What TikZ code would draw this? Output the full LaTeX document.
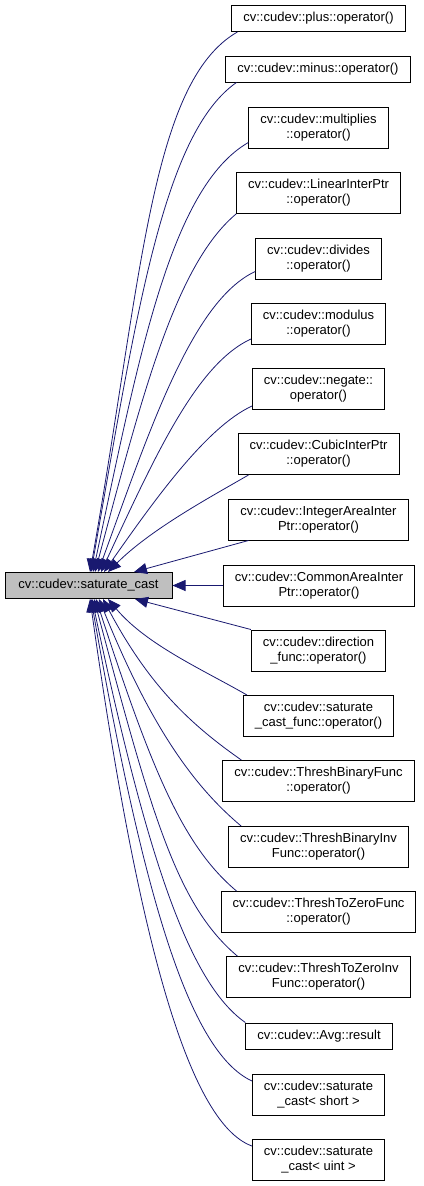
\documentclass[tikz,border=0pt]{standalone}
\usepackage{fontspec}
\setmainfont{Liberation Sans}
\usetikzlibrary{arrows.meta}
\definecolor{edgeblue}{HTML}{191970}
\definecolor{maingray}{HTML}{BFBFBF}
\begin{document}
\begin{tikzpicture}[x=1pt, y=1pt,
  every node/.style={font=\fontsize{13}{15}\selectfont},
  fn/.style={draw=black, line width=1pt, align=center, inner xsep=11.5pt, inner ysep=0pt, minimum height=41pt},
  fnone/.style={fn, minimum height=26pt},
  edge/.style={draw=edgeblue, line width=0.8pt, -{Triangle[length=13pt,width=11pt]}}]
  \useasboundingbox (0,0) rectangle (423,-1186);
  \node[fnone, fill=maingray, minimum width=167pt] (main) at (88.5,-585.5) {cv::cudev::saturate\_cast};
  \node[fnone] (plus) at (318.5,-18.5) {cv::cudev::plus::operator()};
  \node[fnone] (minus) at (318,-69) {cv::cudev::minus::operator()};
  \node[fn] (mult) at (318.5,-127.5) {cv::cudev::multiplies\\::operator()};
  \node[fn] (linear) at (318.5,-193) {cv::cudev::LinearInterPtr\\::operator()};
  \node[fn] (divides) at (318.5,-258.5) {cv::cudev::divides\\::operator()};
  \node[fn] (modulus) at (318.5,-324) {cv::cudev::modulus\\::operator()};
  \node[fn] (negate) at (318.5,-389) {cv::cudev::negate::\\operator()};
  \node[fn] (cubic) at (318.5,-454) {cv::cudev::CubicInterPtr\\::operator()};
  \node[fn] (intarea) at (318.5,-519.5) {cv::cudev::IntegerAreaInter\\Ptr::operator()};
  \node[fn] (commonarea) at (319,-585.5) {cv::cudev::CommonAreaInter\\Ptr::operator()};
  \node[fn] (direction) at (318.5,-650.5) {cv::cudev::direction\\\_func::operator()};
  \node[fn] (satfunc) at (318.5,-716) {cv::cudev::saturate\\\_cast\_func::operator()};
  \node[fn] (tbin) at (318.5,-781) {cv::cudev::ThreshBinaryFunc\\::operator()};
  \node[fn] (tbininv) at (318.5,-847) {cv::cudev::ThreshBinaryInv\\Func::operator()};
  \node[fn] (tzero) at (318.5,-912) {cv::cudev::ThreshToZeroFunc\\::operator()};
  \node[fn] (tzeroinv) at (318.5,-977) {cv::cudev::ThreshToZeroInv\\Func::operator()};
  \node[fnone] (avg) at (319,-1036) {cv::cudev::Avg::result};
  \node[fn] (satshort) at (318.5,-1095) {cv::cudev::saturate\\\_cast< short >};
  \node[fn] (satuint) at (318.5,-1160) {cv::cudev::saturate\\\_cast< uint >};
  \draw[edge] ([xshift=6pt]plus.south west) .. controls +(210:100) and +(80:300) .. ([xshift=1.5pt]main.north);
  \draw[edge] ([xshift=11pt]minus.south west) .. controls +(215:90) and +(80:260) .. ([xshift=2.5pt]main.north);
  \draw[edge] ([yshift=6pt]mult.south west) .. controls +(210:90) and +(78:220) .. ([xshift=4.5pt]main.north);
  \draw[edge] (linear.south west) .. controls +(220:80) and +(75:180) .. ([xshift=6.5pt]main.north);
  \draw[edge] ([yshift=8pt]divides.south west) .. controls +(205:70) and +(70:150) .. ([xshift=9.5pt]main.north);
  \draw[edge] ([yshift=6pt]modulus.south west) .. controls +(205:60) and +(65:130) .. ([xshift=12.5pt]main.north);
  \draw[edge] ([yshift=4pt]negate.south west) .. controls +(205:50) and +(55:90) .. ([xshift=15.5pt]main.north);
  \draw[edge] ([xshift=11pt]cubic.south west) .. controls +(210:45) and +(45:60) .. ([xshift=19.5pt]main.north);
  \draw[edge] ([xshift=20pt]intarea.south west) -- ([xshift=45.5pt]main.north);
  \draw[edge] (commonarea.west) -- (main.east);
  \draw[edge] (direction.north west) -- ([xshift=46.5pt]main.south);
  \draw[edge] ([xshift=4pt]satfunc.north west) .. controls +(150:50) and +(-50:60) .. ([xshift=19.5pt]main.south);
  \draw[edge] ([xshift=19pt]tbin.north west) .. controls +(145:60) and +(-62:100) .. ([xshift=14.5pt]main.south);
  \draw[edge] ([xshift=13pt]tbininv.north west) .. controls +(140:60) and +(-68:140) .. ([xshift=10.5pt]main.south);
  \draw[edge] ([xshift=16pt]tzero.north west) .. controls +(140:70) and +(-72:180) .. ([xshift=7.5pt]main.south);
  \draw[edge] ([xshift=11pt]tzeroinv.north west) .. controls +(140:80) and +(-75:220) .. ([xshift=5.5pt]main.south);
  \draw[edge] (avg.north west) .. controls +(145:70) and +(-78:260) .. ([xshift=3.5pt]main.south);
  \draw[edge] ([yshift=-7pt]satshort.north west) .. controls +(155:70) and +(-80:300) .. ([xshift=2.5pt]main.south);
  \draw[edge] ([yshift=-7pt]satuint.north west) .. controls +(160:70) and +(-82:330) .. ([xshift=1.5pt]main.south);
\end{tikzpicture}
\end{document}
